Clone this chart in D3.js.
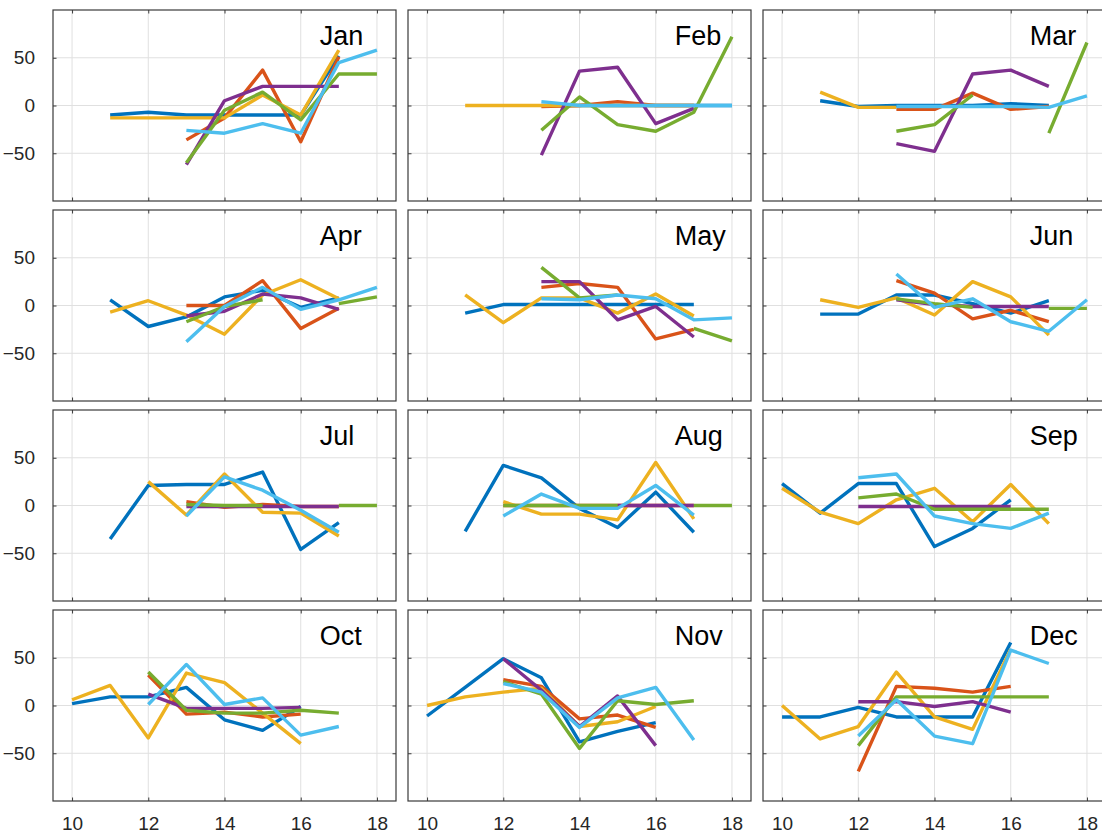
<!DOCTYPE html>
<html>
<head>
<meta charset="utf-8">
<script src="https://cdn.jsdelivr.net/npm/d3@7"></script>
<style>
  body { margin: 0; background: #fff; }
  svg { display: block; font-family: "Liberation Sans", Arial, sans-serif; }
  .grid line { stroke: #e0e0e0; stroke-width: 1; }
  .frame { fill: none; stroke: #3a3a3a; stroke-width: 1.2; }
  .axis text { font-family: "Liberation Sans", Arial, sans-serif; font-size: 19px; fill: #262626; }
  .month { font-size: 27px; fill: #000; }
  .series { fill: none; stroke-width: 3.4; stroke-linejoin: round; }
</style>
</head>
<body>
<svg></svg>
<script>

var months = ["Jan", "Feb", "Mar", "Apr", "May", "Jun", "Jul", "Aug", "Sep", "Oct", "Nov", "Dec"];
var hours = [10, 11, 12, 13, 14, 15, 16, 17, 18];
var xTicks = [10, 12, 14, 16, 18];
var yTicks = [-50, 0, 50];
var _ = null;

// one row per month, one value per hour (null = no data)
var series1 = [
  [_, -10, -7, -10, -10, -10, -10, 52, _],
  [_, _, _, 0, 0, 0, 0, 0, 0],
  [_, 5, -1, 0, 0, 0, 2, 0, _],
  [_, 6, -22, -12, 9, 16, -2, 8, _],
  [_, -8, 1, 1, 1, 1, 1, 1, _],
  [_, -9, -9, 11, 11, 2, -8, 5, _],
  [_, -35, 21, 22, 22, 35, -46, -18, _],
  [_, -27, 42, 29, -3, -23, 14, -28, _],
  [23, -8, 23, 23, -43, -24, 6, _, _],
  [2, 9, 9, 19, -15, -26, -1, _, _],
  [-11, 19, 49, 29, -38, -27, -18, _, _],
  [-12, -12, -2, -12, -12, -12, 66, _, _]
];
var series2 = [
  [_, _, _, -36, -13, 37, -38, 51, _],
  [_, _, _, -1, 0, 4, 0, 0, _],
  [_, _, _, -4, -4, 13, -4, -1, _],
  [_, _, _, 0, 0, 26, -24, -3, _],
  [_, _, _, 19, 23, 19, -35, -25, _],
  [_, _, _, 26, 13, -14, -5, -17, _],
  [_, _, _, 4, -2, 1, -1, -1, _],
  [_, _, 0, 0, 0, 0, 0, 0, _],
  [_, _, _, _, _, _, _, _, _],
  [_, _, 32, -9, -7, -12, -9, _, _],
  [_, _, 27, 20, -14, -10, -23, _, _],
  [_, _, -69, 20, 18, 14, 20, _, _]
];
var series3 = [
  [_, -13, -13, -13, -13, 11, -10, 58, _],
  [_, 0, 0, 0, 0, 0, 0, 0, _],
  [_, 14, -2, -2, _, _, _, _, _],
  [_, -7, 5, -10, -30, 11, 27, 7, _],
  [_, 11, -18, 8, 8, -8, 12, -11, _],
  [_, 6, -2, 8, -10, 25, 9, -31, _],
  [_, _, 25, -10, 33, -7, -8, -32, _],
  [_, _, 4, -9, -9, -15, 45, -14, _],
  [18, -7, -19, 6, 18, -17, 22, -19, _],
  [6, 21, -34, 34, 24, -8, -40, _, _],
  [0, 9, 14, 18, -22, -17, -1, _, _],
  [0, -35, -22, 35, -12, -25, 59, _, _]
];
var series4 = [
  [_, _, _, -62, 5, 20, 20, 20, _],
  [_, _, _, -52, 36, 40, -19, -3, _],
  [_, _, _, -40, -48, 33, 37, 20, _],
  [_, _, _, -11, -6, 12, 8, -4, _],
  [_, _, _, 25, 25, -15, -1, -33, _],
  [_, _, _, 6, 1, -1, -1, -1, _],
  [_, _, _, -1, -1, -1, -1, -1, _],
  [_, _, _, _, _, 0, 0, 0, _],
  [_, _, -1, -1, -1, -1, -1, _, _],
  [_, _, 12, -3, -3, -3, -2, _, _],
  [_, _, 49, 16, -22, 10, -42, _, _],
  [_, _, 4, 4, -1, 4, -7, _, _]
];
var series5 = [
  [_, _, _, -60, -5, 14, -15, 33, 33],
  [_, _, _, -26, 9, -20, -27, -7, 72],
  [_, _, _, -27, -20, 11, _, -29, 66],
  [_, _, _, -17, -1, 6, _, 2, 9],
  [_, _, _, 40, 8, 11, _, -24, -37],
  [_, _, _, 7, 2, -2, _, -3, -3],
  [_, _, _, 1, 0, 0, _, 0, 0],
  [_, _, 0, 0, 0, 0, _, 0, 0],
  [_, _, 8, 12, -4, -4, -4, -4, _],
  [_, _, 35, -5, -8, -8, -5, -8, _],
  [_, _, 25, 12, -45, 5, 1, 5, _],
  [_, _, -42, 9, 9, 9, 9, 9, _]
];
var series6 = [
  [_, _, _, -26, -29, -19, -29, 45, 58],
  [_, _, _, 4, 0, 0, 0, 0, 0],
  [_, _, _, -1, -1, -1, -1, -2, 10],
  [_, _, _, -38, -1, 19, -4, 6, 19],
  [_, _, _, 7, 6, 11, 7, -15, -13],
  [_, _, _, 33, -2, 7, -17, -27, 6],
  [_, _, _, -11, 30, 16, -5, -28, _],
  [_, _, -11, 12, -3, -3, 21, -10, _],
  [_, _, 29, 33, -11, -19, -24, -8, _],
  [_, _, 1, 43, 1, 8, -31, -22, _],
  [_, _, 23, 14, -23, 8, 19, -36, _],
  [_, _, -32, 6, -32, -40, 58, 44, _]
];

var allSeries = [series1, series2, series3, series4, series5, series6];
var colors = ["#0072BD", "#D95319", "#EDB120", "#7E2F8E", "#77AC30", "#4DBEEE"];

var width = 1102;
var height = 840;
var panelW = 343;
var panelH = 191;
var colLeft = [53, 408, 763];
var rowTop = [10, 210, 410, 610];
var tickLen = 3.5;

var svg = d3.select("svg")
            .attr("width", width)
            .attr("height", height);

var x = d3.scaleLinear().domain([9.5, 18.5]).range([0, panelW]);
var y = d3.scaleLinear().domain([-100, 100]).range([panelH, 0]);

var line = d3.line()
  .defined(d => d.v != null)
  .x(d => x(d.h))
  .y(d => y(d.v));

months.forEach((m, i) => {
  var row = Math.floor(i / 3);
  var col = i % 3;
  var g = svg.append("g")
             .attr("transform", `translate(${colLeft[col]},${rowTop[row]})`);

  g.append("clipPath")
     .attr("id", "clip" + i)
   .append("rect")
     .attr("width", panelW)
     .attr("height", panelH);

  // grid
  var grid = g.append("g").classed("grid", true);
  grid.selectAll(".gx")
    .data(xTicks)
    .enter().append("line")
      .attr("x1", d => x(d)).attr("x2", d => x(d))
      .attr("y1", 0).attr("y2", panelH);
  grid.selectAll(".gy")
    .data(yTicks)
    .enter().append("line")
      .attr("y1", d => y(d)).attr("y2", d => y(d))
      .attr("x1", 0).attr("x2", panelW);

  // ticks pointing inward on all four sides, labels only on outer panels
  var left = d3.axisLeft(y).tickValues(yTicks).tickSize(-tickLen).tickPadding(18);
  if (col > 0) left.tickFormat("");
  var bottom = d3.axisBottom(x).tickValues(xTicks).tickSize(-tickLen).tickPadding(16);
  if (row < 3) bottom.tickFormat("");

  g.append("g").classed("axis", true).call(left);
  g.append("g").classed("axis", true)
    .attr("transform", `translate(0,${panelH})`).call(bottom);
  g.append("g").classed("axis", true)
    .call(d3.axisTop(x).tickValues(xTicks).tickSize(-tickLen).tickFormat(""));
  g.append("g").classed("axis", true)
    .attr("transform", `translate(${panelW},0)`)
    .call(d3.axisRight(y).tickValues(yTicks).tickSize(-tickLen).tickFormat(""));
  g.selectAll(".axis .domain").remove();
  g.selectAll(".axis line").attr("stroke", "#3a3a3a");

  // the series
  g.append("g")
     .attr("clip-path", `url(#clip${i})`)
   .selectAll("path")
   .data(allSeries.map(s => s[i].map((v, k) => ({h: hours[k], v: v}))))
   .enter().append("path")
     .classed("series", true)
     .attr("stroke", (d, k) => colors[k])
     .attr("d", line);

  g.append("text")
    .classed("month", true)
    .attr("x", x(16.5))
    .attr("y", y(63))
    .text(m);

  g.append("rect")
    .classed("frame", true)
    .attr("width", panelW)
    .attr("height", panelH);
});

</script>
</body>
</html>
